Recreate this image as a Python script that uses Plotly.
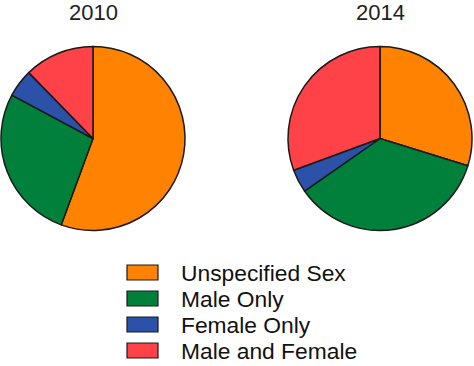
import plotly.graph_objects as go

labels = ["Unspecified Sex", "Male Only", "Female Only", "Male and Female"]
values_2010 = [55.6, 27.2, 4.9, 12.3]
values_2014 = [29.8, 35.5, 4.1, 30.6]
years = ["2010", "2014"]
colors = ["#FF8200", "#00803A", "#2B52A8", "#FF4148"]

W, H = 474, 366
FONT = "Liberation Sans, Arial"
domains = [
    dict(x=[1 / W, 185 / W], y=[(H - 231) / H, (H - 46) / H]),
    dict(x=[288 / W, 472 / W], y=[(H - 231) / H, (H - 46) / H]),
]

fig = go.Figure()
for i, (yr, vals) in enumerate(zip(years, [values_2010, values_2014])):
    fig.add_trace(go.Pie(
        labels=labels, values=vals, sort=False, direction="clockwise",
        rotation=0, textinfo="none", hoverinfo="label+percent",
        marker=dict(colors=colors, line=dict(color="#1a1a1a", width=1.5)),
        domain=domains[i], showlegend=False, name=yr,
    ))
    d = domains[i]
    fig.add_annotation(text=yr, x=(d["x"][0] + d["x"][1]) / 2, y=1.0 + 2 / H,
                       xref="paper", yref="paper", showarrow=False,
                       xanchor="center", yanchor="top",
                       font=dict(size=22, color="#222", family=FONT))

# legend drawn as boxes + text (layout elements, one row per label)
row0, row_gap = 272.5, 26.0
for k, (lab, col) in enumerate(zip(labels, colors)):
    yc = row0 + row_gap * k
    fig.add_shape(type="rect", xref="paper", yref="paper",
                  x0=127 / W, x1=158 / W,
                  y0=(H - yc - 7.5) / H, y1=(H - yc + 7.5) / H,
                  fillcolor=col, line=dict(color="#1a1a1a", width=1.2))
    fig.add_annotation(text=lab, x=179 / W, y=(H - yc) / H,
                       xref="paper", yref="paper", showarrow=False,
                       xanchor="left", yanchor="middle",
                       font=dict(size=22.8, color="#111", family=FONT))

fig.update_layout(
    width=W, height=H, margin=dict(l=0, r=0, t=0, b=0, autoexpand=False),
    paper_bgcolor="white", plot_bgcolor="white",
    font=dict(family=FONT, color="#111"),
    showlegend=False,
)
fig.write_html("out.html", config={"displayModeBar": False},
               post_script="document.body.style.margin='0';")
